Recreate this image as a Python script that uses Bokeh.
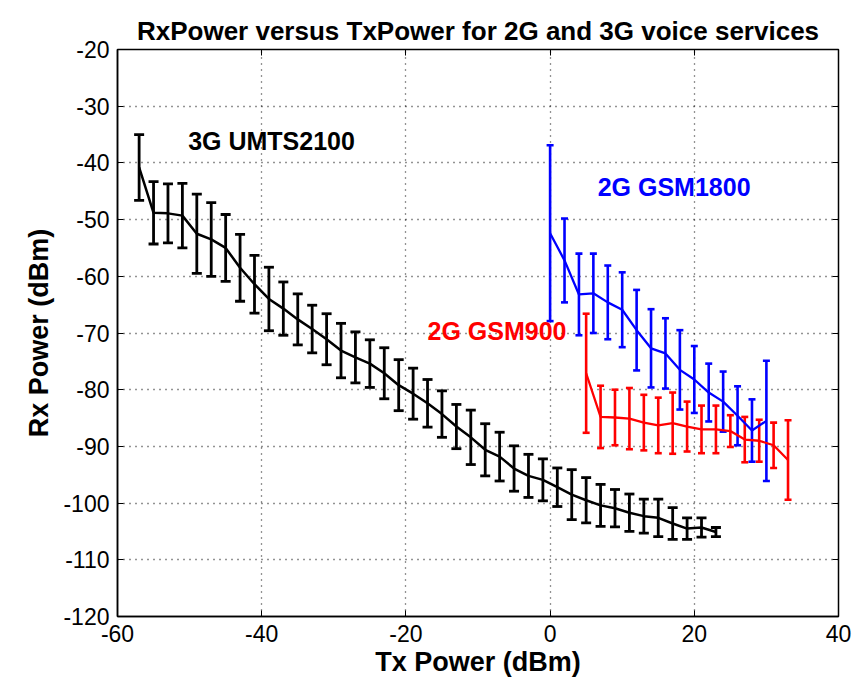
from bokeh.plotting import figure
from bokeh.models import (ColumnDataSource, Whisker, TeeHead, Range1d, LinearAxis,
                          Label, FixedTicker, CustomJSTickFormatter)
from bokeh.embed import file_html
from bokeh.resources import INLINE

# ---------------- data ----------------
umts_tx = [-57, -55, -53, -51, -49, -47, -45, -43, -41, -39, -37, -35, -33, -31,
           -29, -27, -25, -23, -21, -19, -17, -15, -13, -11, -9, -7, -5, -3, -1,
           1, 3, 5, 7, 9, 11, 13, 15, 17, 19, 21, 23]
umts_rx = [-40.8, -48.8, -48.9, -49.3, -52.5, -53.5, -55.0, -58.5, -61.4, -64.0,
           -65.7, -67.6, -69.3, -71.1, -73.1, -74.3, -75.4, -77.1, -79.2, -80.7,
           -82.4, -84.3, -86.5, -88.4, -90.6, -91.8, -93.9, -95.2, -95.9, -97.2,
           -98.5, -99.5, -100.4, -100.9, -101.7, -102.3, -102.6, -103.6, -104.5,
           -104.3, -105.1]
umts_err = [5.8, 5.5, 5.2, 5.7, 7.0, 6.5, 5.9, 5.9, 5.1, 5.6, 4.7, 4.5, 4.2, 4.5,
            4.8, 4.5, 4.2, 4.5, 4.5, 4.5, 4.2, 4.1, 3.9, 4.8, 4.6, 4.3, 4.0, 3.8,
            3.7, 3.4, 4.4, 4.0, 3.7, 3.3, 3.3, 3.0, 3.3, 2.8, 1.9, 1.7, 0.8]

gsm900_tx = [5, 7, 9, 11, 13, 15, 17, 19, 21, 23, 25, 27, 29, 31, 33]
gsm900_rx = [-77.1, -84.8, -84.9, -85.1, -85.8, -86.3, -85.9, -86.5, -87.0, -87.0,
             -87.3, -88.8, -89.0, -89.8, -92.4]
gsm900_err = [10.5, 5.5, 4.9, 5.4, 4.9, 4.9, 5.4, 4.4, 4.2, 4.2, 2.8, 4.0, 3.7,
              4.0, 7.0]

gsm1800_tx = [0, 2, 4, 6, 8, 10, 12, 14, 16, 18, 20, 22, 24, 26, 28, 30]
gsm1800_rx = [-52.4, -57.2, -63.2, -63.0, -64.6, -65.9, -69.5, -72.7, -73.6, -76.5,
              -78.2, -80.5, -82.1, -84.6, -87.2, -85.5]
gsm1800_err = [15.5, 7.4, 7.2, 7.0, 6.5, 6.6, 7.1, 6.9, 6.2, 7.0, 5.9, 5.1, 5.3,
               5.2, 5.5, 10.6]

x_ticks = [-60, -40, -20, 0, 20, 40]
y_ticks = [-120, -110, -100, -90, -80, -70, -60, -50, -40, -30, -20]

title_text = "RxPower versus TxPower for 2G and 3G voice services"
x_label = "Tx Power (dBm)"
y_label = "Rx Power (dBm)"
series_labels = ["3G UMTS2100", "2G GSM900", "2G GSM1800"]

# ---------------- figure ----------------
TICK_FONT = "Liberation Sans"
BOLD_FONT = "Liberation Sans"
X_MIN, X_MAX, Y_MIN, Y_MAX = -60, 40, -120, -20

p = figure(width=858, height=682, output_backend="svg", toolbar_location=None,
           x_range=Range1d(X_MIN, X_MAX), y_range=Range1d(Y_MIN, Y_MAX),
           min_border_left=117, min_border_right=20, min_border_top=49,
           min_border_bottom=66, background_fill_color="white",
           border_fill_color="white")

p.title.text = title_text
p.title.align = "center"
p.title.vertical_align = "top"
p.title.text_font = BOLD_FONT
p.title.text_font_style = "bold"
p.title.text_font_size = "26px"
p.title.text_color = "black"
p.title.standoff = 4

p.outline_line_color = "black"
p.outline_line_width = 1.5

fmt = CustomJSTickFormatter(code="return tick.toFixed(0);")
for ax in (p.xaxis[0], p.yaxis[0]):
    ax.axis_line_color = "black"
    ax.axis_line_width = 1.5
    ax.major_tick_in = 6
    ax.major_tick_out = 0
    ax.major_tick_line_color = "black"
    ax.minor_tick_line_color = None
    ax.formatter = fmt
    ax.major_label_text_font = TICK_FONT
    ax.major_label_text_font_size = "23px"
    ax.major_label_text_color = "black"
    ax.axis_label_text_font = BOLD_FONT
    ax.axis_label_text_font_style = "bold"
    ax.axis_label_text_font_size = "27px"
    ax.axis_label_text_color = "black"

p.xaxis[0].ticker = FixedTicker(ticks=x_ticks)
p.yaxis[0].ticker = FixedTicker(ticks=y_ticks)
p.xaxis[0].axis_label = x_label
p.yaxis[0].axis_label = y_label
p.xaxis[0].major_label_standoff = 8
p.yaxis[0].major_label_standoff = 8
p.xaxis[0].axis_label_standoff = 2
p.yaxis[0].axis_label_standoff = 6

# inward ticks on the top and right edges of the box (no labels)
blank = CustomJSTickFormatter(code="return '';")
top_ax = LinearAxis(ticker=FixedTicker(ticks=x_ticks), formatter=blank,
                    major_label_text_font_size="1px", major_label_standoff=0,
                    major_tick_in=6, major_tick_out=0, minor_tick_line_color=None,
                    axis_line_color="black", major_tick_line_color="black")
right_ax = LinearAxis(ticker=FixedTicker(ticks=y_ticks), formatter=blank,
                      major_label_text_font_size="1px", major_label_standoff=0,
                      major_tick_in=6, major_tick_out=0, minor_tick_line_color=None,
                      axis_line_color="black", major_tick_line_color="black")
p.add_layout(top_ax, "above")
p.add_layout(right_ax, "right")

for g in (p.xgrid[0], p.ygrid[0]):
    g.grid_line_color = "black"
    g.grid_line_alpha = 0.85
    g.grid_line_dash = "1 5"
    g.grid_line_width = 1.3
p.xgrid[0].ticker = FixedTicker(ticks=x_ticks)
p.ygrid[0].ticker = FixedTicker(ticks=y_ticks)


def add_series(tx, rx, err, color, cap, lw):
    src = ColumnDataSource(dict(x=tx, y=rx,
                                lo=[a - b for a, b in zip(rx, err)],
                                hi=[a + b for a, b in zip(rx, err)]))
    p.line("x", "y", source=src, line_color=color, line_width=lw)
    w = Whisker(base="x", lower="lo", upper="hi", source=src,
                line_color=color, line_width=lw + 0.3,
                upper_head=TeeHead(size=cap, line_color=color, line_width=lw + 0.3),
                lower_head=TeeHead(size=cap, line_color=color, line_width=lw + 0.3))
    p.add_layout(w)


add_series(umts_tx, umts_rx, umts_err, "black", 10, 2.5)
add_series(gsm900_tx, gsm900_rx, gsm900_err, "#ff0000", 7, 2.3)
add_series(gsm1800_tx, gsm1800_rx, gsm1800_err, "#0000ff", 7, 2.3)

label_pos = [(-50.2, -36.2, "black"), (-17.0, -69.6, "#ff0000"), (6.6, -44.2, "#0000ff")]
for (lx, ly, col), txt in zip(label_pos, series_labels):
    p.add_layout(Label(x=lx, y=ly, text=txt, text_color=col, text_font=BOLD_FONT,
                       text_font_style="bold", text_font_size="25px",
                       text_baseline="middle", text_align="left"))

open("out.html", "w").write(file_html(p, INLINE))
